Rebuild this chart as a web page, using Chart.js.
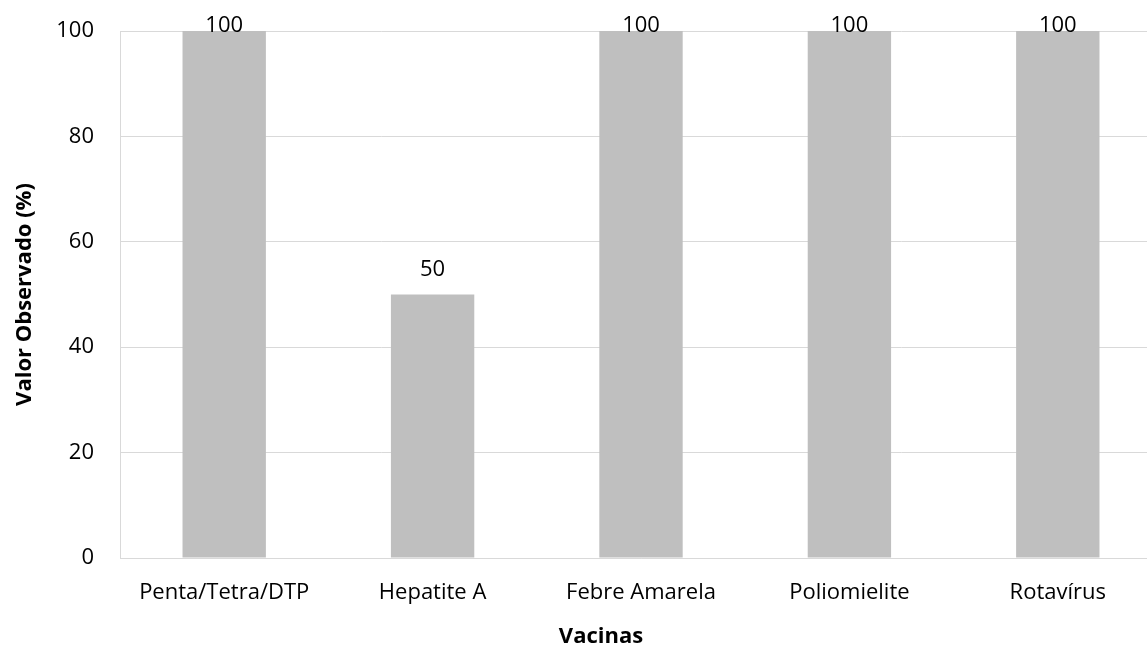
<!DOCTYPE html>
<html><head><meta charset="utf-8">
<script src="https://cdn.jsdelivr.net/npm/chart.js@4/dist/chart.umd.min.js"></script>
<style>html,body{margin:0;padding:0;background:#fff;overflow:hidden}#w{width:1162px;height:646px}</style>
</head><body><div id="w"><canvas id="c"></canvas></div>
<script>
const categories = ["Penta/Tetra/DTP", "Hepatite A", "Febre Amarela", "Poliomielite", "Rotavírus"];
const values = [100, 50, 100, 100, 100];
const yTicks = [0, 20, 40, 60, 80, 100];
const xTitle = "Vacinas";
const yTitle = "Valor Observado (%)";
const FONT = "Open Sans";

const labelPlugin = {
  id: 'vlabels',
  afterDatasetsDraw(chart) {
    const ctx = chart.ctx;
    const meta = chart.getDatasetMeta(0);
    ctx.save();
    ctx.font = '22px "' + FONT + '"';
    ctx.fillStyle = '#000';
    ctx.textAlign = 'center';
    ctx.textBaseline = 'alphabetic';
    meta.data.forEach((bar, i) => {
      const y = Math.max(bar.y - 19, chart.chartArea.top + 1);
      ctx.fillText(String(values[i]), bar.x, y);
    });
    // x axis title
    ctx.font = 'bold 22px "' + FONT + '"';
    ctx.fillText(xTitle, 601, 643);
    ctx.restore();
  }
};

new Chart(document.getElementById('c'), {
  type: 'bar',
  data: { labels: categories, datasets: [{ data: values, backgroundColor: '#bfbfbf', categoryPercentage: 1, barPercentage: 0.40 }] },
  options: {
    responsive: true, maintainAspectRatio: false, animation: false,
    layout: { padding: { top: 31, right: 0, left: 0, bottom: 0 } },
    plugins: { legend: { display: false }, tooltip: { enabled: false } },
    scales: {
      x: {
        grid: { display: false, drawTicks: false },
        border: { color: '#d9d9d9', width: 1 },
        ticks: { color: '#000', font: { family: FONT, size: 22 }, padding: 22, maxRotation: 0 },
        afterFit: s => { s.height = 88; s.paddingLeft = 0; s.paddingRight = 0; }
      },
      y: {
        min: 0, max: 100,
        afterBuildTicks: s => { s.ticks = yTicks.map(v => ({ value: v })); },
        grid: { color: '#d9d9d9', drawTicks: false },
        border: { color: '#d9d9d9', width: 1 },
        ticks: { color: '#000', font: { family: FONT, size: 22 }, padding: 26 },
        title: { display: true, text: yTitle, color: '#000', font: { family: FONT, size: 22, weight: 'bold' }, padding: { top: 12, bottom: 0 } },
        afterFit: s => { s.width = 120; s.paddingTop = 0; s.paddingBottom = 0; }
      }
    }
  },
  plugins: [labelPlugin]
});
</script></body></html>
